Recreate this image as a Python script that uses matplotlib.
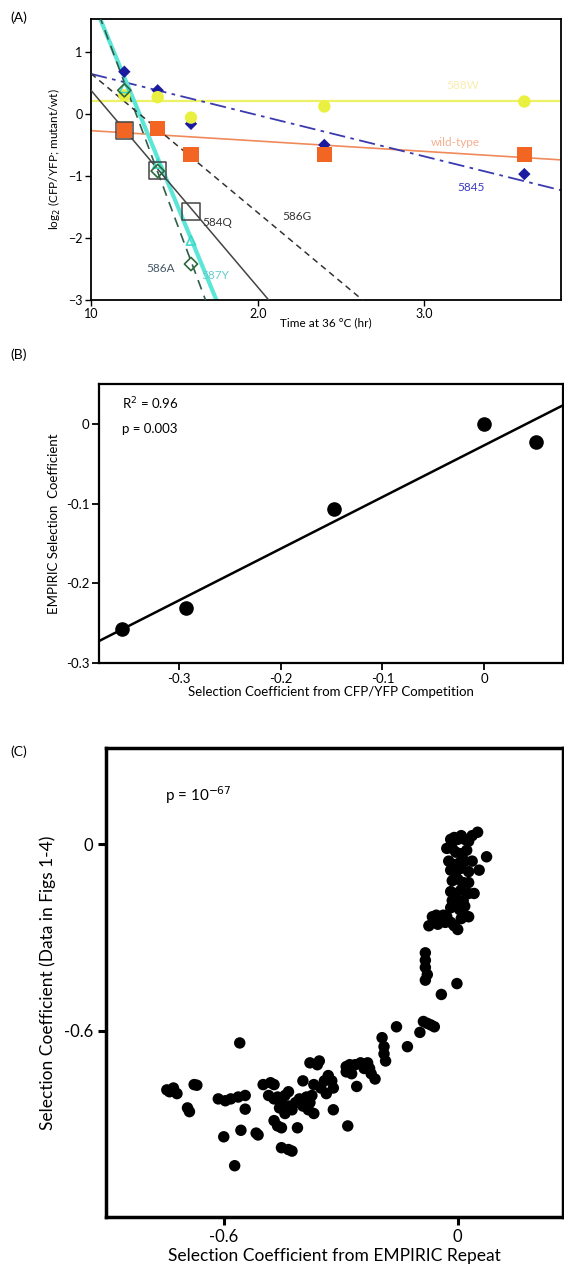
import numpy as np
import matplotlib
matplotlib.use("Agg")
import matplotlib.pyplot as plt

plt.rcParams['font.family'] = ['Lato', 'DejaVu Sans']

# ---------------- Panel A data ----------------
times = [12, 14, 16, 24, 36]
wt_vals = [-0.26, -0.23, -0.65, -0.65, -0.66]
s5845_vals = [0.68, 0.38, -0.16, -0.50, -0.97]
yel_vals = [0.30, 0.27, -0.06, 0.12, 0.20]
t_short = [12, 14, 16]
q584_vals = [-0.26, -0.92, -1.58]
a586_vals = [0.38, -0.92, -2.42]
y587_vals = [0.42, -0.80, -2.04]
# fitted lines: (slope, intercept)
wt_fit = (-0.0167, -0.103)
s5845_fit = (-0.0665, 1.31)
yel_fit = (0.0, 0.21)
q584_fit = (-0.317, 3.55)
g586_fit = (-0.224, 2.89)
a586_fit = (-0.72, 9.146)
y587_fit = (-0.65, 8.39)
a_xticks = [10, 20, 30]
a_xticklabels = ["10", "2.0", "3.0"]
a_yticks = [-3, -2, -1, 0, 1]

# ---------------- Panel B data ----------------
b_x = [-0.355, -0.293, -0.148, 0.0, 0.051]
b_y = [-0.257, -0.231, -0.107, 0.0, -0.023]
b_xticks = [-0.3, -0.2, -0.1, 0]
b_xticklabels = ["-0.3", "-0.2", "-0.1", "0"]
b_yticks = [-0.3, -0.2, -0.1, 0]
b_yticklabels = ["-0.3", "-0.2", "-0.1", "0"]

# ---------------- Panel C data ----------------
c_pts = [
    (-0.746, -0.791), (-0.729, -0.785), (-0.720, -0.803), (-0.739, -0.797),
    (-0.676, -0.774), (-0.669, -0.776), (-0.693, -0.849), (-0.688, -0.861),
    (-0.614, -0.820), (-0.596, -0.826), (-0.582, -0.820), (-0.563, -0.814),
    (-0.545, -0.809), (-0.545, -0.853), (-0.600, -0.942), (-0.556, -0.921),
    (-0.517, -0.930), (-0.512, -0.936), (-0.572, -1.035), (-0.559, -0.640),
    (-0.499, -0.774), (-0.480, -0.768), (-0.471, -0.774),
    (-0.485, -0.809), (-0.471, -0.820), (-0.462, -0.814), (-0.452, -0.832),
    (-0.443, -0.809), (-0.434, -0.797), (-0.434, -0.843), (-0.443, -0.867),
    (-0.425, -0.855), (-0.416, -0.832), (-0.406, -0.820), (-0.397, -0.843),
    (-0.388, -0.814), (-0.383, -0.855), (-0.379, -0.832), (-0.374, -0.809),
    (-0.369, -0.867), (-0.457, -0.849),
    (-0.471, -0.890), (-0.462, -0.907), (-0.452, -0.913),
    (-0.452, -0.977), (-0.434, -0.983), (-0.425, -0.988), (-0.411, -0.913),
    (-0.397, -0.762), (-0.379, -0.704), (-0.360, -0.710), (-0.355, -0.698),
    (-0.369, -0.774), (-0.351, -0.785), (-0.337, -0.803), (-0.342, -0.762),
    (-0.332, -0.745), (-0.323, -0.762), (-0.319, -0.785), (-0.319, -0.855),
    (-0.286, -0.716), (-0.277, -0.710), (-0.263, -0.710), (-0.249, -0.704),
    (-0.240, -0.722), (-0.231, -0.704), (-0.286, -0.733), (-0.272, -0.739),
    (-0.259, -0.780), (-0.282, -0.907),
    (-0.226, -0.722), (-0.222, -0.739), (-0.212, -0.756),
    (-0.194, -0.623), (-0.189, -0.652), (-0.189, -0.675), (-0.185, -0.698),
    (-0.157, -0.588), (-0.129, -0.652),
    (-0.097, -0.606), (-0.088, -0.571), (-0.078, -0.577), (-0.069, -0.582), (-0.060, -0.588),
    (-0.083, -0.350), (-0.083, -0.374), (-0.083, -0.397), (-0.078, -0.420), (-0.083, -0.438),
    (-0.042, -0.484), (-0.002, -0.449),
    (-0.074, -0.263), (-0.065, -0.234), (-0.055, -0.229), (-0.046, -0.234),
    (-0.037, -0.229), (-0.028, -0.234), (-0.018, -0.252), (-0.009, -0.263),
    (0.000, -0.275), (0.009, -0.240), (0.018, -0.229), (0.028, -0.234),
    (-0.051, -0.258), (-0.032, -0.252),
    (-0.018, 0.015), (-0.009, 0.021), (0.000, 0.015), (0.009, 0.027),
    (0.018, 0.015), (0.028, 0.009), (0.051, 0.038), (0.037, 0.027),
    (-0.028, -0.014), (-0.014, -0.014), (-0.005, -0.026), (0.009, -0.031),
    (0.023, -0.020), (0.074, -0.041),
    (-0.023, -0.055), (-0.009, -0.066), (0.005, -0.060), (0.018, -0.055), (0.037, -0.055),
    (-0.018, -0.084), (-0.005, -0.089), (0.009, -0.078), (0.028, -0.089), (0.055, -0.084),
    (-0.014, -0.118), (0.000, -0.113), (0.014, -0.124), (0.028, -0.124),
    (-0.018, -0.153), (-0.005, -0.159), (0.009, -0.147), (0.028, -0.159), (0.042, -0.159),
    (-0.014, -0.182), (0.000, -0.188), (0.014, -0.182),
    (-0.018, -0.205), (0.005, -0.211), (0.018, -0.200),
]
c_x = [p[0] for p in c_pts]
c_y = [p[1] for p in c_pts]
c_xticks = [-0.6, 0]
c_xticklabels = ["-0.6", "0"]
c_yticks = [-0.6, 0]
c_yticklabels = ["-0.6", "0"]

W, H = 564, 1287
fig = plt.figure(figsize=(W / 100, H / 100), dpi=100)

def ax_px(l, t, r, b):
    return fig.add_axes([l / W, 1 - b / H, (r - l) / W, (b - t) / H])

# ================= Panel A =================
axA = ax_px(91, 19, 561, 300)
axA.set_xlim(10, 38.2)
axA.set_ylim(-3, 1.53)
xx = np.linspace(10, 38.2, 200)

def fitline(fit):
    return fit[0] * xx + fit[1]

axA.plot(xx, fitline(yel_fit), color='#ECF264', lw=1.6, zorder=2)
axA.plot(xx, fitline(wt_fit), color='#F08A5A', lw=1.2, zorder=2)
axA.plot(xx, fitline(s5845_fit), color='#3A3AB0', lw=1.3, ls=(0, (9, 3, 2, 3)), zorder=2)
axA.plot(xx, fitline(y587_fit), color='#5CE6D8', lw=3.0, zorder=2)
axA.plot(xx, fitline(a586_fit), color='#2F5F4A', lw=1.2, ls=(0, (6, 4)), zorder=3)
axA.plot(xx, fitline(q584_fit), color='#444444', lw=1.1, zorder=3)
axA.plot(xx, fitline(g586_fit), color='#333333', lw=1.1, ls=(0, (4, 3)), zorder=3)

axA.scatter(times, yel_vals, s=80, color='#EAF040', edgecolor='none', zorder=4)
axA.scatter(times, s5845_vals, s=40, marker='D', color='#1B1BA0', edgecolor='none', zorder=3.5)
axA.scatter(times, wt_vals, s=120, marker='s', color='#F26522', edgecolor='none', zorder=5)
axA.scatter(t_short, y587_vals, s=45, marker='^', facecolor='none', edgecolor='#40D8C8', lw=1.2, zorder=5)
axA.scatter(t_short, a586_vals, s=45, marker='D', facecolor='none', edgecolor='#2E6B3A', lw=1.2, zorder=6)
axA.scatter(t_short, q584_vals, s=150, marker='s', facecolor='none', edgecolor='#444444', lw=1.1, zorder=6)

lbl_fs = 8.5
axA.text(32.0, -1.18, "5845", color='#3A3AC0', fontsize=lbl_fs, va='center')
axA.text(30.4, -0.46, "wild-type", color='#F4A07A', fontsize=lbl_fs, va='center', alpha=0.85)
axA.text(31.3, 0.46, "588W", color='#F6E07A', fontsize=lbl_fs, va='center', alpha=0.6)
axA.text(21.5, -1.66, "586G", color='#333333', fontsize=lbl_fs, va='center')
axA.text(16.7, -1.75, "584Q", color='#333333', fontsize=lbl_fs, va='center')
axA.text(13.3, -2.5, "586A", color='#445566', fontsize=lbl_fs, va='center')
axA.text(16.6, -2.6, "587Y", color='#66CCCC', fontsize=lbl_fs, va='center')

axA.set_xticks(a_xticks)
axA.set_xticklabels(a_xticklabels)
axA.set_yticks(a_yticks)
axA.tick_params(direction='out', length=4, width=1.0, labelsize=9, pad=2)
for s in axA.spines.values():
    s.set_linewidth(1.3)
axA.set_xlabel("Time at 36 \u00b0C (hr)", fontsize=8.5, labelpad=-2)
axA.set_ylabel("log$_2$ (CFP/YFP; mutant/wt)", fontsize=8.5, labelpad=4)
fig.text(10 / W, 1 - 18 / H, "(A)", fontsize=10, va='center')

# ================= Panel B =================
axB = ax_px(99, 384, 563, 663)
axB.set_xlim(-0.378, 0.077)
axB.set_ylim(-0.3, 0.05)
coef = np.polyfit(b_x, b_y, 1)
bx = np.linspace(-0.378, 0.077, 50)
axB.plot(bx, np.polyval(coef, bx), color='black', lw=1.8, zorder=2)
axB.scatter(b_x, b_y, s=90, color='black', zorder=3)
axB.set_xticks(b_xticks)
axB.set_xticklabels(b_xticklabels)
axB.set_yticks(b_yticks)
axB.set_yticklabels(b_yticklabels)
axB.tick_params(direction='out', length=5, width=1.3, labelsize=9.5, pad=2)
for s in axB.spines.values():
    s.set_linewidth(1.6)
axB.set_xlabel("Selection Coefficient from CFP/YFP Competition", fontsize=9.5, labelpad=1)
axB.set_ylabel("EMPIRIC Selection  Coefficient", fontsize=9.5, labelpad=4)
axB.text(0.05, 0.93, "R$^2$ = 0.96", transform=axB.transAxes, fontsize=9.5, va='center')
axB.text(0.05, 0.84, "p = 0.003", transform=axB.transAxes, fontsize=9.5, va='center')
fig.text(10 / W, 1 - 355 / H, "(B)", fontsize=10, va='center')

# ================= Panel C =================
axC = ax_px(106, 748, 563, 1217)
axC.set_xlim(-0.902, 0.27)
axC.set_ylim(-1.2, 0.309)
axC.scatter(c_x, c_y, s=68, color='black', edgecolor='none', zorder=3)
axC.set_xticks(c_xticks)
axC.set_xticklabels(c_xticklabels)
axC.set_yticks(c_yticks)
axC.set_yticklabels(c_yticklabels)
axC.tick_params(direction='out', length=6, width=2.2, labelsize=12, pad=3)
for s in axC.spines.values():
    s.set_linewidth(2.5)
axC.set_xlabel("Selection Coefficient from EMPIRIC Repeat", fontsize=12.5, labelpad=2)
axC.set_ylabel("Selection Coefficient (Data in Figs 1-4)", fontsize=12.5, labelpad=6)
axC.text(0.13, 0.9, "p = 10$^{-67}$", transform=axC.transAxes, fontsize=11, va='center')
fig.text(10 / W, 1 - 752 / H, "(C)", fontsize=10, va='center')

fig.savefig("out.png", dpi=100)
